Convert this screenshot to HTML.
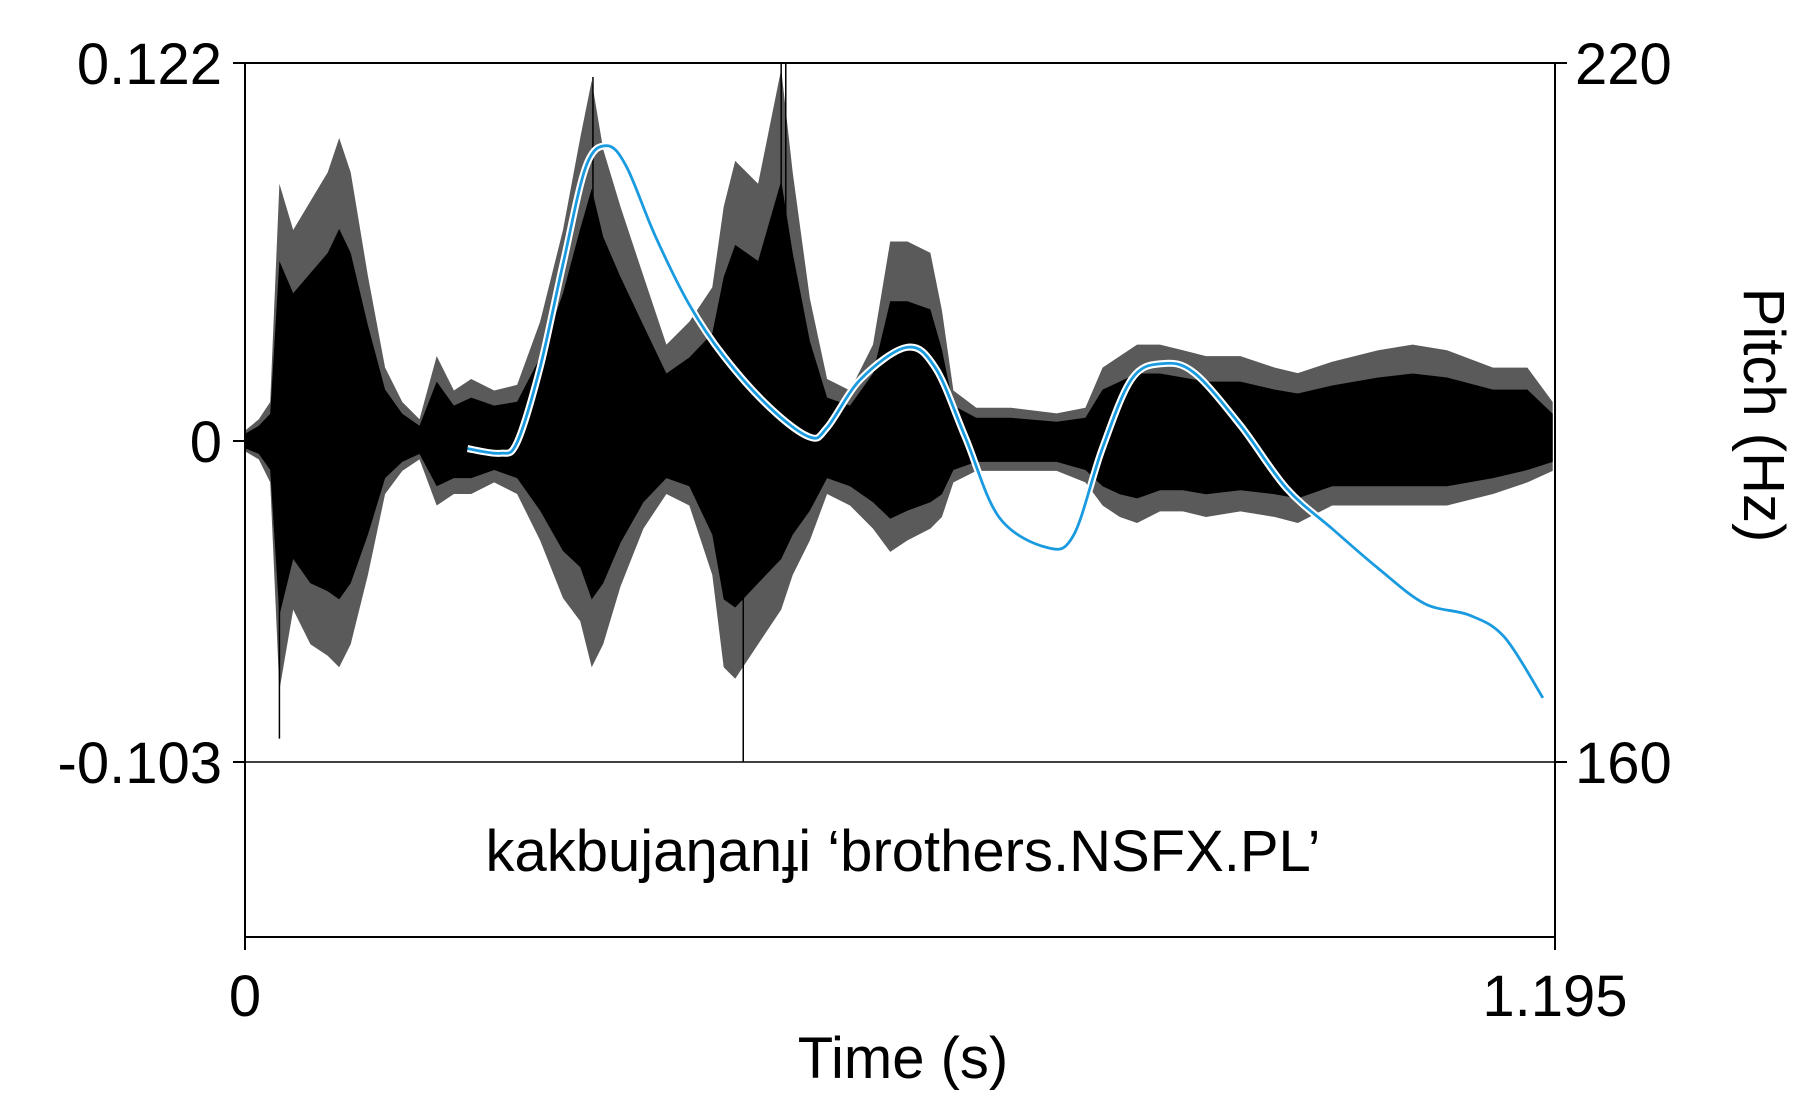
<!DOCTYPE html>
<html><head><meta charset="utf-8"><style>
html,body{margin:0;padding:0;background:#fff}
svg{display:block;font-family:"Liberation Sans",Arial,sans-serif}
</style></head><body>
<svg id="chart" width="1800" height="1100" viewBox="0 0 1800 1100">
<g id="wave"></g>
<g id="pitch"></g>
<g id="axes" stroke="#000" stroke-width="2" fill="none">
<line x1="245" y1="63" x2="1555" y2="63"/>
<line x1="245" y1="762" x2="1555" y2="762" stroke-width="1.5"/>
<line x1="245" y1="937" x2="1555" y2="937"/>
<line x1="245" y1="63" x2="245" y2="950"/>
<line x1="1555" y1="63" x2="1555" y2="950"/>
<line x1="233" y1="63" x2="245" y2="63"/>
<line x1="233" y1="441" x2="245" y2="441"/>
<line x1="233" y1="762" x2="245" y2="762"/>
<line x1="1555" y1="63" x2="1567" y2="63"/>
<line x1="1555" y1="762" x2="1567" y2="762"/>
</g>
<g font-size="58" fill="#000">
<text x="222" y="84" text-anchor="end">0.122</text>
<text x="222" y="462" text-anchor="end">0</text>
<text x="222" y="783" text-anchor="end">-0.103</text>
<text x="1575" y="84">220</text>
<text x="1575" y="783">160</text>
<text x="245" y="1016" text-anchor="middle">0</text>
<text x="1555" y="1016" text-anchor="middle">1.195</text>
<text x="903" y="1078" text-anchor="middle">Time (s)</text>
<text x="903" y="871" text-anchor="middle" font-family="Liberation Sans, DejaVu Sans, sans-serif">kakbujaŋanɟi ‘brothers.NSFX.PL’</text>
<text transform="translate(1744,415) rotate(90)" text-anchor="middle">Pitch (Hz)</text>
</g>
</svg>
<script>
const waveTimes=[0,.0126,.0230,.0314,.0440,.0597,.0754,.0859,.0964,.1121,.1278,.1435,.1592,.1749,.1906,.2063,.2273,.2482,.2692,.2901,.3058,.3163,.3268,.3425,.3634,.3844,.4053,.4263,.4367,.4472,.4681,.4891,.4996,.5153,.5310,.5519,.5729,.5886,.6043,.6252,.6357,.6462,.6671,.6986,.7404,.7666,.7823,.7980,.8138,.8347,.8556,.8766,.9080,.9394,.9604,.9918,1.0337,1.0651,1.0965,1.1384,1.1698,1.1929];
const waveUpper=[.0033,.0070,.0126,.0830,.0681,.0774,.0867,.0978,.0867,.0533,.0237,.0126,.0070,.0274,.0163,.0200,.0163,.0181,.0385,.0681,.0978,.1163,.0941,.0756,.0533,.0311,.0385,.0496,.0756,.0904,.0830,.1200,.0867,.0459,.0200,.0163,.0311,.0644,.0644,.0607,.0422,.0163,.0107,.0107,.0089,.0107,.0237,.0274,.0311,.0311,.0293,.0274,.0274,.0237,.0219,.0256,.0293,.0311,.0293,.0237,.0237,.0126];
const waveLower=[-.0033,-.0059,-.0133,-.0800,-.0541,-.0652,-.0689,-.0726,-.0652,-.0430,-.0170,-.0096,-.0059,-.0207,-.0170,-.0170,-.0133,-.0170,-.0319,-.0504,-.0578,-.0726,-.0652,-.0467,-.0281,-.0170,-.0207,-.0430,-.0726,-.0763,-.0652,-.0541,-.0430,-.0319,-.0170,-.0207,-.0281,-.0356,-.0319,-.0281,-.0244,-.0133,-.0096,-.0096,-.0096,-.0133,-.0207,-.0244,-.0263,-.0226,-.0226,-.0244,-.0226,-.0244,-.0263,-.0207,-.0207,-.0207,-.0207,-.0170,-.0133,-.0096];
const spikeTimes=[.0314,.3174,.4545,.4891,.4933];
const spikeAmps=[-.0955,.1175,-.103,.122,.122];
const pitchTimes=[.203,.2325,.248,.269,.290,.311,.330,.348,.374,.405,.437,.479,.515,.531,.562,.604,.630,.657,.688,.732,.756,.782,.809,.837,.866,.908,.950,.992,1.034,1.076,1.117,1.149,1.184];
const pitchHz=[186.9,186.5,187.4,193.8,202.7,211.1,212.9,211.1,205.2,199.3,194.8,190.4,187.9,188.7,192.9,195.6,193.8,187.9,181.0,178.4,179.5,186.9,192.9,194.2,193.4,188.9,183.5,180.0,176.6,173.6,172.6,170.7,165.5];
const NS='http://www.w3.org/2000/svg';
const X0=245,X1=1555,YT=63,YZ=441,YB=762;
const xs=t=>X0+t/1.195*(X1-X0);
const ya=a=>a>=0?YZ-a/0.122*(YZ-YT):YZ-a/0.103*(YB-YZ);
const yp=h=>YB-(h-160)/60*(YB-YT);
const wave=document.getElementById('wave');
function env(scale,fill,name){
let pts=[];
for(let i=0;i<waveTimes.length;i++)pts.push(xs(waveTimes[i]).toFixed(1)+','+ya(waveUpper[i]*scale).toFixed(1));
for(let i=waveTimes.length-1;i>=0;i--)pts.push(xs(waveTimes[i]).toFixed(1)+','+ya(waveLower[i]*scale).toFixed(1));
const poly=document.createElementNS(NS,'polygon');


poly.setAttribute('points',pts.join(' '));
poly.setAttribute('fill',fill);
wave.appendChild(poly);}
env(1,'#5a5a5a','waveform-peak-envelope');
env(0.7,'#000','waveform-core-envelope');
for(let i=0;i<spikeTimes.length;i++){
const l=document.createElementNS(NS,'line');


l.setAttribute('x1',xs(spikeTimes[i]));l.setAttribute('x2',xs(spikeTimes[i]));
l.setAttribute('y1',YZ);l.setAttribute('y2',ya(spikeAmps[i]));
l.setAttribute('stroke','#000');l.setAttribute('stroke-width','1.5');
wave.appendChild(l);}
const pg=document.getElementById('pitch');
function smooth(p){let d='M'+p[0][0]+','+p[0][1];
for(let i=0;i<p.length-1;i++){const p0=p[i-1]||p[i],p1=p[i],p2=p[i+1],p3=p[i+2]||p2;
d+=' C'+(p1[0]+(p2[0]-p0[0])/6).toFixed(1)+','+(p1[1]+(p2[1]-p0[1])/6).toFixed(1)+' '+(p2[0]-(p3[0]-p1[0])/6).toFixed(1)+','+(p2[1]-(p3[1]-p1[1])/6).toFixed(1)+' '+p2[0].toFixed(1)+','+p2[1].toFixed(1);}
return d;}
const pp=pitchTimes.map((t,i)=>[xs(t),yp(pitchHz[i])]);
const d=smooth(pp);
const halo=document.createElementNS(NS,'path');


halo.setAttribute('d',d);halo.setAttribute('fill','none');halo.setAttribute('stroke','#fff');halo.setAttribute('stroke-width','7');
pg.appendChild(halo);
const pl=document.createElementNS(NS,'path');


pl.setAttribute('d',d);pl.setAttribute('fill','none');pl.setAttribute('stroke','#1a9be0');pl.setAttribute('stroke-width','2.8');
pg.appendChild(pl);
</script>
</body></html>
